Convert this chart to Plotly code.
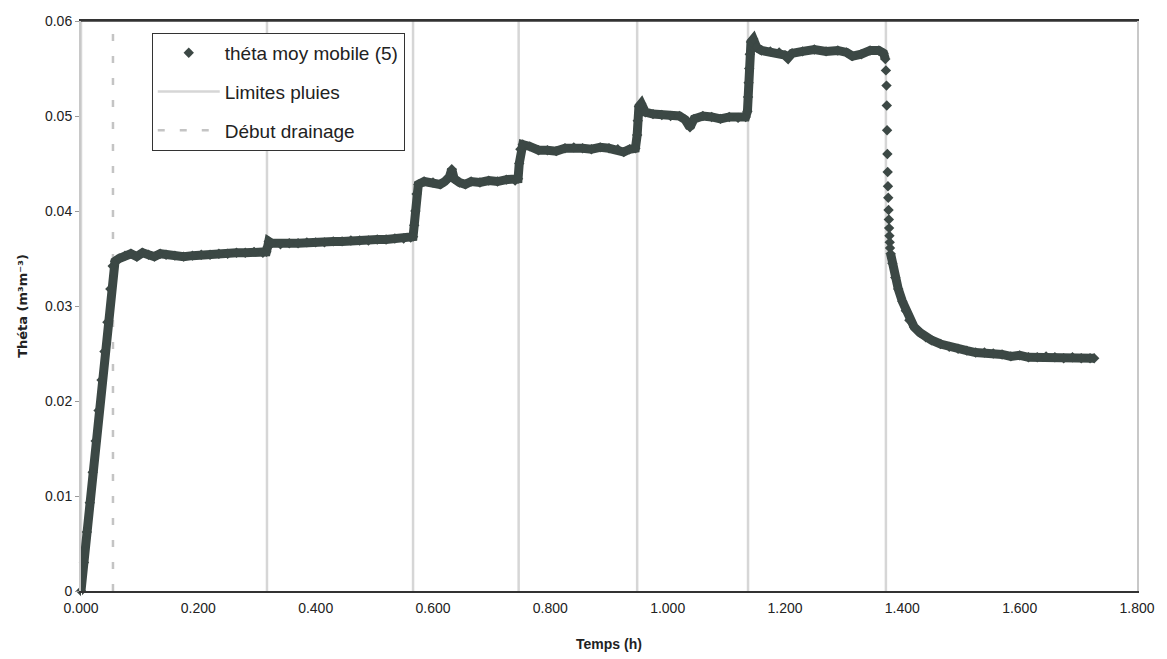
import plotly.graph_objects as go

# ---- data ----
# moving-average water content during the rain phases (h, m3/m3)
time_rain = [0.000, 0.005, 0.010, 0.015, 0.020, 0.025, 0.030, 0.035, 0.040, 0.045, 0.050, 0.054,
             0.058, 0.065, 0.075, 0.085, 0.095, 0.105, 0.115, 0.125, 0.135, 0.145, 0.160, 0.175,
             0.190, 0.205, 0.220, 0.235, 0.250, 0.265, 0.280, 0.295, 0.310, 0.316,
             0.318, 0.320, 0.325, 0.340, 0.355, 0.370, 0.385, 0.400, 0.415, 0.430, 0.445, 0.460,
             0.475, 0.490, 0.505, 0.520, 0.535, 0.550, 0.562, 0.566,
             0.568, 0.570, 0.572, 0.575, 0.585, 0.600, 0.612, 0.620, 0.628, 0.632, 0.636, 0.645,
             0.655, 0.665, 0.680, 0.695, 0.710, 0.725, 0.740, 0.745,
             0.747, 0.749, 0.753, 0.765, 0.780, 0.795, 0.810, 0.825, 0.840, 0.855, 0.870, 0.885,
             0.900, 0.915, 0.925, 0.935, 0.945,
             0.948, 0.949, 0.951, 0.955, 0.962, 0.975, 0.990, 1.005, 1.020, 1.030, 1.038, 1.045,
             1.060, 1.075, 1.090, 1.105, 1.120, 1.133,
             1.136, 1.137, 1.138, 1.139, 1.140, 1.142, 1.146, 1.152, 1.160, 1.175, 1.190, 1.200,
             1.205, 1.212, 1.230, 1.250, 1.270, 1.290, 1.305, 1.315, 1.330, 1.345, 1.360, 1.368,
             1.371]
theta_rain = [0.0000, 0.0030, 0.0062, 0.0093, 0.0125, 0.0158, 0.0190, 0.0222, 0.0252, 0.0283, 0.0318, 0.0342,
              0.0347, 0.0350, 0.0353, 0.0355, 0.0352, 0.0356, 0.0354, 0.0352, 0.0355, 0.0354, 0.0353, 0.0352,
              0.0353, 0.0354, 0.0354, 0.0355, 0.0355, 0.0356, 0.0356, 0.0357, 0.0356, 0.0357,
              0.0362, 0.0368, 0.0366, 0.0365, 0.0366, 0.0366, 0.0367, 0.0367, 0.0367, 0.0368, 0.0368, 0.0369,
              0.0369, 0.0369, 0.0370, 0.0370, 0.0371, 0.0371, 0.0372, 0.0373,
              0.0385, 0.0400, 0.0418, 0.0428, 0.0431, 0.0430, 0.0428, 0.0431, 0.0436, 0.0444, 0.0434, 0.0430,
              0.0428, 0.0431, 0.0430, 0.0432, 0.0431, 0.0433, 0.0432, 0.0434,
              0.0450, 0.0465, 0.0470, 0.0468, 0.0464, 0.0464, 0.0463, 0.0466, 0.0467, 0.0466, 0.0465, 0.0467,
              0.0466, 0.0465, 0.0462, 0.0465, 0.0466,
              0.0480, 0.0495, 0.0510, 0.0513, 0.0504, 0.0502, 0.0501, 0.0500, 0.0500, 0.0496, 0.0488, 0.0497,
              0.0500, 0.0499, 0.0497, 0.0499, 0.0498, 0.0499,
              0.0505, 0.0520, 0.0535, 0.0550, 0.0565, 0.0578, 0.0581, 0.0572, 0.0569, 0.0568, 0.0567, 0.0564,
              0.0561, 0.0566, 0.0568, 0.0570, 0.0568, 0.0569, 0.0567, 0.0563, 0.0565, 0.0569, 0.0569, 0.0566,
              0.0560]

# fast drop right after the rain stops (sparse points)
time_drop = [1.372, 1.373, 1.3735, 1.374, 1.3745, 1.375, 1.3755, 1.376, 1.3765, 1.377, 1.3775, 1.378,
             1.3785, 1.379]
theta_drop = [0.0548, 0.0532, 0.0511, 0.0485, 0.0460, 0.0441, 0.0426, 0.0414, 0.0401, 0.0391, 0.0382, 0.0374,
              0.0367, 0.0361]

# drainage recession
time_drain = [1.380, 1.383, 1.388, 1.393, 1.400, 1.406, 1.412, 1.420, 1.430, 1.440, 1.450, 1.465,
              1.480, 1.495, 1.510, 1.525, 1.540, 1.555, 1.570, 1.585, 1.600, 1.615, 1.630, 1.645,
              1.660, 1.675, 1.690, 1.705, 1.720, 1.727]
theta_drain = [0.0355, 0.0345, 0.0330, 0.0318, 0.0305, 0.0295, 0.0285, 0.0278, 0.0272, 0.0267, 0.0264, 0.0260,
               0.0257, 0.0255, 0.0253, 0.0251, 0.0251, 0.0250, 0.0249, 0.0247, 0.0248, 0.0246, 0.0246, 0.0247,
               0.0246, 0.0245, 0.0246, 0.0245, 0.0245, 0.0245]

rain_limits = [0.0, 0.317, 0.566, 0.746, 0.948, 1.137, 1.372]
drain_start = 0.0545

x_ticks = [0.0, 0.2, 0.4, 0.6, 0.8, 1.0, 1.2, 1.4, 1.6, 1.8]
x_ticktext = ["0.000", "0.200", "0.400", "0.600", "0.800", "1.000", "1.200", "1.400", "1.600", "1.800"]
y_ticks = [0, 0.01, 0.02, 0.03, 0.04, 0.05, 0.06]
y_ticktext = ["0", "0.01", "0.02", "0.03", "0.04", "0.05", "0.06"]

# ---- styles ----
DARK = "#3c4845"
RAIN_GRAY = "#d6d6d6"
DRAIN_GRAY = "#c4c4c4"
FONT = "Liberation Sans, Arial, sans-serif"

fig = go.Figure()

# rain limit lines
rx, ry = [], []
for v in rain_limits:
    rx += [v, v, None]
    ry += [0, 0.06, None]

fig.add_trace(go.Scatter(x=rx, y=ry, mode="lines", name="Limites pluies",
                         line=dict(color=RAIN_GRAY, width=2.5),
                         legendgroup="b", legendrank=2, hoverinfo="skip"))
fig.add_trace(go.Scatter(x=[drain_start, drain_start], y=[0, 0.06], mode="lines",
                         name="Début drainage",
                         line=dict(color=DRAIN_GRAY, width=2.5, dash="7px,15px"),
                         legendgroup="c", legendrank=3, hoverinfo="skip"))

# thick band (continuous portions)
for tx, ty in [(time_rain, theta_rain), (time_drain, theta_drain)]:
    fig.add_trace(go.Scatter(x=tx, y=ty, mode="lines", showlegend=False,
                             line=dict(color=DARK, width=9), hoverinfo="skip"))

# all points as diamonds
all_t = time_rain + time_drop + time_drain
all_theta = theta_rain + theta_drop + theta_drain
fig.add_trace(go.Scatter(x=all_t, y=all_theta, mode="markers",
                         name="théta moy mobile (5)",
                         marker=dict(symbol="diamond", size=8, color=DARK),
                         legendgroup="a", legendrank=1, cliponaxis=False))

fig.update_layout(
    width=1159, height=651,
    margin=dict(l=73, r=30, t=13, b=68),
    paper_bgcolor="white", plot_bgcolor="white",
    font=dict(family=FONT, size=14, color="#222222"),
    showlegend=True,
    legend=dict(x=0.067, y=0.979, xanchor="left", yanchor="top",
                bgcolor="white", bordercolor="#333333", borderwidth=1,
                font=dict(family=FONT, size=19, color="#222222"),
                traceorder="grouped", tracegroupgap=11, itemwidth=62),
    xaxis=dict(range=[0, 1.8], tickvals=x_ticks, ticktext=x_ticktext,
               showgrid=False, zeroline=False, automargin=False,
               showline=True, linecolor="#333333", linewidth=2, mirror=True,
               ticks="outside", ticklen=3, tickcolor="white",
               tickfont=dict(size=14),
               title=dict(text="<b>Temps (h)</b>", font=dict(family=FONT, size=14), standoff=24)),
    yaxis=dict(range=[0, 0.06], tickvals=y_ticks, ticktext=y_ticktext,
               showgrid=False, zeroline=False, automargin=False,
               showline=True, linecolor="#c8c8c8", linewidth=2, mirror=True,
               ticks="outside", ticklen=4, tickcolor="#999999",
               tickfont=dict(size=14),
               title=dict(text="<b>Théta (m³m⁻³)</b>",
                          font=dict(family="DejaVu Sans, Verdana, sans-serif", size=13),
                          standoff=14)),
)

# darker top border
fig.add_shape(type="line", xref="paper", yref="paper", x0=0, x1=1, y0=1, y1=1,
              line=dict(color="#333333", width=1.5))

fig.write_html("out.html")
